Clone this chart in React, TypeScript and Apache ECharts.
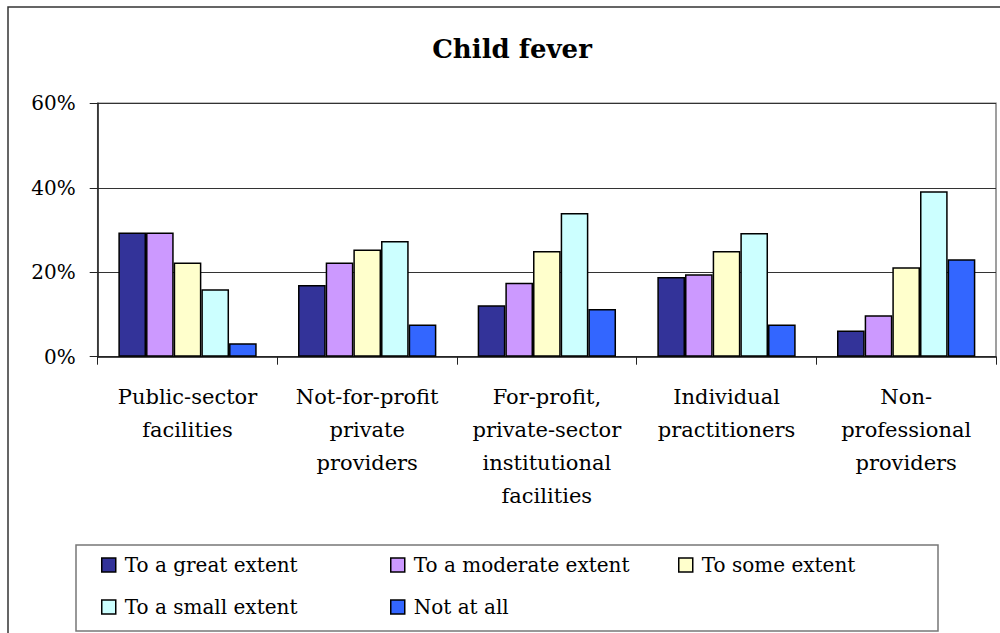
import React, { useEffect, useRef } from "react";
import * as echarts from "echarts";

const categories = [
  "Public-sector\nfacilities",
  "Not-for-profit\nprivate\nproviders",
  "For-profit,\nprivate-sector\ninstitutional\nfacilities",
  "Individual\npractitioners",
  "Non-\nprofessional\nproviders",
];

const seriesNames = [
  "To a great extent",
  "To a moderate extent",
  "To some extent",
  "To a small extent",
  "Not at all",
];

const greatExtent = [29.4, 17.0, 12.2, 18.9, 6.2];
const moderateExtent = [29.4, 22.3, 17.5, 19.5, 9.8];
const someExtent = [22.3, 25.4, 25.0, 25.0, 21.2];
const smallExtent = [16.0, 27.4, 34.0, 29.3, 39.2];
const notAtAll = [3.2, 7.6, 11.3, 7.6, 23.1];

const yTicks = [0, 20, 40, 60];

const colors = ["#333399", "#CC99FF", "#FFFFCC", "#CCFFFF", "#3366FF"];

const FONT = "DejaVu Serif";

export default function App() {
  const ref = useRef<HTMLDivElement>(null);

  useEffect(() => {
    if (!ref.current) return;
    const chart = echarts.init(ref.current, null, { renderer: "svg" });
    const values = [greatExtent, moderateExtent, someExtent, smallExtent, notAtAll];
    const legendPos = [
      [101, 555],
      [390, 555],
      [678, 555],
      [101, 597],
      [390, 597],
    ];
    chart.setOption({
      animation: false,
      backgroundColor: "#ffffff",
      grid: {
        left: 97.7,
        right: 4,
        top: 103.3,
        bottom: 276.3,
        show: true,
        borderColor: "#808080",
        borderWidth: 1.5,
        backgroundColor: "transparent",
      },
      xAxis: {
        type: "category",
        data: categories,
        axisLine: { show: true, lineStyle: { color: "#222", width: 1.5 } },
        axisTick: { show: true, length: 8, lineStyle: { color: "#222", width: 1 } },
        axisLabel: {
          margin: 24,
          fontFamily: FONT,
          fontSize: 21,
          lineHeight: 33,
          color: "#000",
          interval: 0,
          align: "center",
        },
      },
      yAxis: {
        type: "value",
        min: 0,
        max: 60,
        interval: 20,
        axisLine: { show: true, lineStyle: { color: "#222", width: 1.5 } },
        axisTick: { show: true, length: 8, lineStyle: { color: "#222", width: 1 } },
        splitLine: { show: true, lineStyle: { color: "#333", width: 1 } },
        axisLabel: {
          margin: 22,
          fontFamily: FONT,
          fontSize: 20,
          color: "#000",
          formatter: (v: number) => (yTicks.includes(v) ? v + "%" : ""),
        },
      },
      legend: seriesNames.map((name, i) => ({
        data: [name],
        left: legendPos[i][0],
        top: legendPos[i][1],
        padding: 0,
        itemWidth: 14,
        itemHeight: 14,
        icon: "rect",
        itemStyle: { borderColor: "#000", borderWidth: 1.5 },
        textStyle: {
          fontFamily: FONT,
          fontSize: 20,
          color: "#000",
          padding: [0, 0, 0, 4],
        },
        selectedMode: false,
      })),
      graphic: [
        {
          type: "rect",
          shape: { x: 8, y: 7, width: 1200, height: 800 },
          style: { fill: "none", stroke: "#333", lineWidth: 1.5 },
          silent: true,
        },
        {
          type: "rect",
          shape: { x: 76, y: 545, width: 862, height: 86 },
          style: { fill: "none", stroke: "#777", lineWidth: 1.5 },
          silent: true,
        },
        {
          type: "text",
          x: 512,
          y: 49,
          style: {
            text: "Child fever",
            fontFamily: FONT,
            fontSize: 26,
            fontWeight: "bold",
            fill: "#000",
            align: "center",
            verticalAlign: "middle",
          },
          silent: true,
        },
      ],
      series: seriesNames.map((name, i) => ({
        name,
        type: "bar",
        data: values[i],
        barGap: "0%",
        barCategoryGap: "23%",
        itemStyle: { color: colors[i], borderColor: "#000", borderWidth: 1.5 },
      })),
    });
    return () => chart.dispose();
  }, []);

  return (
    <div
      ref={ref}
      style={{ position: "fixed", left: 0, top: 0, width: 1000, height: 633 }}
    />
  );
}
